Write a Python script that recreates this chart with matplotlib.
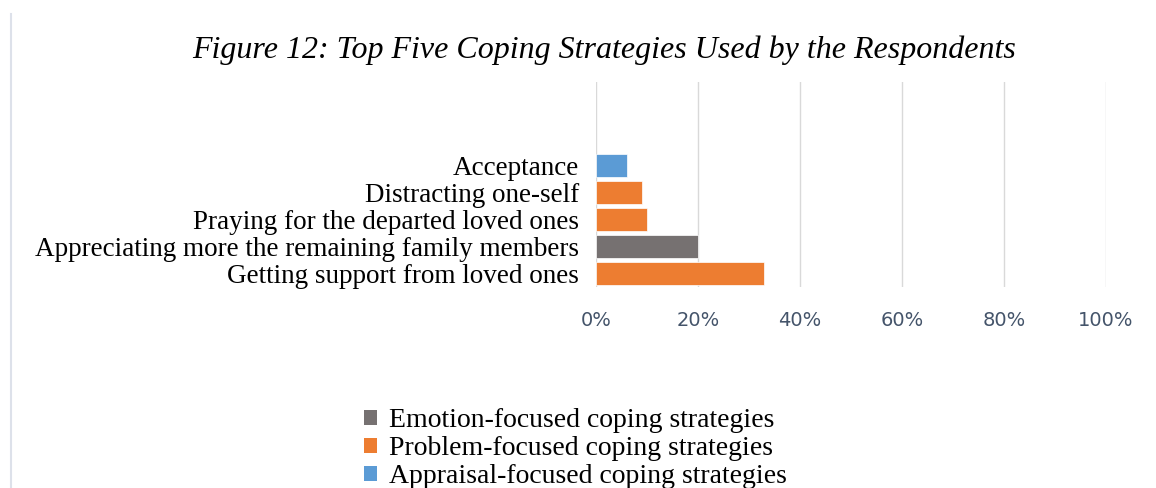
import matplotlib.pyplot as plt
from matplotlib.patches import Patch
from matplotlib.lines import Line2D
from matplotlib.ticker import PercentFormatter

# data (bottom to top)
strategies = [
    "Getting support from loved ones",
    "Appreciating more the remaining family members",
    "Praying for the departed loved ones",
    "Distracting one-self",
    "Acceptance",
]
percent = [33, 20, 10, 9, 6]
groups = ["Problem", "Emotion", "Problem", "Problem", "Appraisal"]

group_names = ["Emotion", "Problem", "Appraisal"]
group_labels = [
    "Emotion-focused coping strategies",
    "Problem-focused coping strategies",
    "Appraisal-focused coping strategies",
]
group_colors = {"Emotion": "#767171", "Problem": "#ED7D31", "Appraisal": "#5B9BD5"}

serif = "Liberation Serif"

fig = plt.figure(figsize=(11.56, 4.88), dpi=100)
ax = fig.add_axes([0.5156, 0.412, 0.4411, 0.420])

y = list(range(len(strategies)))
colors = [group_colors[g] for g in groups]
ax.barh(y, percent, height=0.85, color=colors, edgecolor="white", linewidth=0.5, zorder=3)

ax.set_xlim(0, 100)
ax.set_ylim(-0.5, 7.1)
ax.set_xticks(range(0, 101, 20))
ax.xaxis.set_major_formatter(PercentFormatter(decimals=0))
ax.set_yticks(y)
ax.set_yticklabels(strategies, fontfamily=serif, fontsize=19.5, color="black")
ax.tick_params(axis="y", length=0, pad=12)
ax.tick_params(axis="x", length=0, pad=17, labelsize=14, labelcolor="#44546A")
for lab in ax.get_xticklabels():
    lab.set_fontfamily("DejaVu Sans")
ax.grid(axis="x", color="#D9D9D9", linewidth=1, zorder=0)
for s in ax.spines.values():
    s.set_visible(False)

fig.text(0.523, 0.898, "Figure 12: Top Five Coping Strategies Used by the Respondents",
         ha="center", va="center", fontfamily=serif, fontstyle="italic", fontsize=23)

handles = [Patch(facecolor=group_colors[g]) for g in group_names]
fig.legend(handles, group_labels, loc="upper left", bbox_to_anchor=(0.315, 0.163),
           frameon=False, prop={"family": serif, "size": 20},
           handlelength=0.45, handleheight=0.45, handletextpad=0.45,
           labelspacing=0.1, borderpad=0, borderaxespad=0)

fig.add_artist(Line2D([0.0095, 0.0095], [0.0, 0.972], color="#DDE1EA", linewidth=1.5))

fig.savefig("out.png", dpi=100)
